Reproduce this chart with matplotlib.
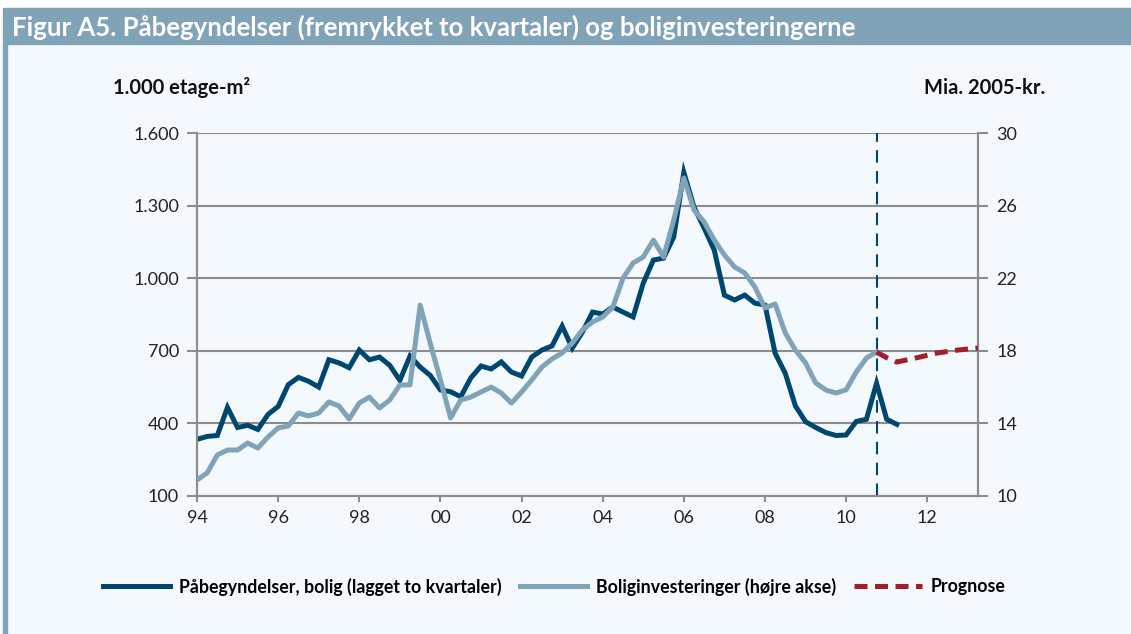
import matplotlib
matplotlib.use("Agg")
import matplotlib.pyplot as plt
from matplotlib.patches import Rectangle
from matplotlib.lines import Line2D

plt.rcParams['font.family'] = ['Lato', 'DejaVu Sans']

# quarterly data, 1994Q1 = index 0
paabegyndelser = [334, 346, 350, 466, 383, 392, 375, 437, 470, 560, 590, 574,
                  550, 663, 650, 630, 703, 663, 674, 640, 578, 678, 633, 598,
                  538, 531, 510, 588, 637, 625, 654, 612, 596, 674, 703, 720,
                  802, 711, 777, 860, 852, 881, 860, 840, 980, 1075, 1083, 1170,
                  1437, 1294, 1207, 1116, 930, 910, 930, 897, 889, 690, 607, 472,
                  407, 383, 362, 350, 352, 408, 417, 566, 417, 396]
boliginv = [10.88, 11.27, 12.26, 12.53, 12.53, 12.92, 12.64, 13.25, 13.75, 13.86, 14.57, 14.41,
            14.57, 15.18, 14.96, 14.24, 15.12, 15.45, 14.85, 15.29, 16.12, 16.12, 20.52, 18.4,
            16.4, 14.30, 15.29, 15.45, 15.73, 16.0, 15.67, 15.12, 15.73, 16.39, 17.1, 17.55,
            17.88, 18.43, 19.15, 19.59, 19.86, 20.41, 22.0, 22.84, 23.17, 24.1, 23.17, 25.2,
            27.52, 25.76, 25.1, 24.1, 23.28, 22.62, 22.29, 21.52, 20.36, 20.58, 18.98, 18.04,
            17.33, 16.23, 15.84, 15.67, 15.85, 16.83, 17.6, 17.93]
prognose_start = 67
prognose = [17.93, 17.62, 17.38, 17.5, 17.62, 17.75, 17.88, 17.96, 18.04, 18.1, 18.15]
prognose_line = 67

xtick_pos = [0, 8, 16, 24, 32, 40, 48, 56, 64, 72]
xtick_labels = ['94', '96', '98', '00', '02', '04', '06', '08', '10', '12']
left_ticks = [100, 400, 700, 1000, 1300, 1600]
left_labels = ['100', '400', '700', '1.000', '1.300', '1.600']
right_ticks = [10, 14, 18, 22, 26, 30]

dark = '#00476f'
light = '#81a3b8'
red = '#a01f2a'
grid = '#8c8c8c'
bg = '#f4f9fd'

fig = plt.figure(figsize=(11.31, 6.34), dpi=100, facecolor=bg)
fig.patches.append(Rectangle((0, 0.93), 1, 0.07, transform=fig.transFigure,
                             color='white', zorder=0))
fig.patches.append(Rectangle((0.003, 0.930), 0.997, 0.057, transform=fig.transFigure,
                             color=light, zorder=1))
fig.patches.append(Rectangle((0.003, 0), 0.003, 0.93, transform=fig.transFigure,
                             color=light, zorder=1))
fig.text(0.011, 0.957, 'Figur A5. Påbegyndelser (fremrykket to kvartaler) og boliginvesteringerne',
         color='white', fontsize=18.5, fontweight='bold', va='center', ha='left')
fig.text(0.1, 1 - 88 / 634, '1.000 etage-m²', fontsize=14.5, fontweight='bold',
         va='center', ha='left', color='#111')
fig.text(0.924, 1 - 88 / 634, 'Mia. 2005-kr.', fontsize=14.5, fontweight='bold',
         va='center', ha='right', color='#111')

ax = fig.add_axes([0.1742, 0.2177, 0.6905, 0.5725])
ax.set_facecolor(bg)
ax2 = ax.twinx()

x1 = list(range(len(paabegyndelser)))
x2 = list(range(len(boliginv)))
x3 = list(range(prognose_start, prognose_start + len(prognose)))

ax.plot(x1, paabegyndelser, color=dark, lw=3.6, solid_joinstyle='miter', zorder=3)
ax2.plot(x2, boliginv, color=light, lw=3.6, zorder=3)
ax2.plot(x3, prognose, color=red, lw=3.6, dashes=(2.6, 1.5), zorder=3)
ax.axvline(prognose_line, color=dark, lw=1.5, dashes=(6, 4), zorder=4)

ax.set_xlim(0, 77)
ax.set_ylim(100, 1600)
ax2.set_ylim(10, 30)
ax.set_yticks(left_ticks)
ax.set_yticklabels(left_labels)
ax2.set_yticks(right_ticks)
ax.set_xticks(xtick_pos)
ax.set_xticklabels(xtick_labels)

ax.grid(axis='y', color=grid, lw=1.5)
ax.set_axisbelow(True)
for a in (ax, ax2):
    for s in a.spines.values():
        s.set_color(grid)
        s.set_linewidth(1.5)
    a.spines['top'].set_visible(False)
ax.tick_params(axis='y', direction='out', length=7, width=1.5, color=grid,
               labelsize=13, pad=6, labelcolor='#222')
ax2.tick_params(axis='y', direction='out', length=7, width=1.5, color=grid,
                labelsize=13, pad=6, labelcolor='#222')
ax.tick_params(axis='x', direction='out', length=4, width=1.5, color=grid,
               labelsize=13, pad=6, labelcolor='#222')

handles = [Line2D([], [], color=dark, lw=3.6),
           Line2D([], [], color=light, lw=3.6),
           Line2D([], [], color=red, lw=3.6, dashes=(2.6, 1.5))]
labels = ['Påbegyndelser, bolig (lagget to kvartaler)',
          'Boliginvesteringer (højre akse)', 'Prognose']
leg = fig.legend(handles, labels, loc='center', bbox_to_anchor=(0.49, 0.075),
                 ncol=3, frameon=False, handlelength=3.8, handletextpad=0.5,
                 columnspacing=1.0, prop={'weight': 'bold', 'size': 12.8})

fig.savefig('out.png', dpi=100, facecolor=bg)
